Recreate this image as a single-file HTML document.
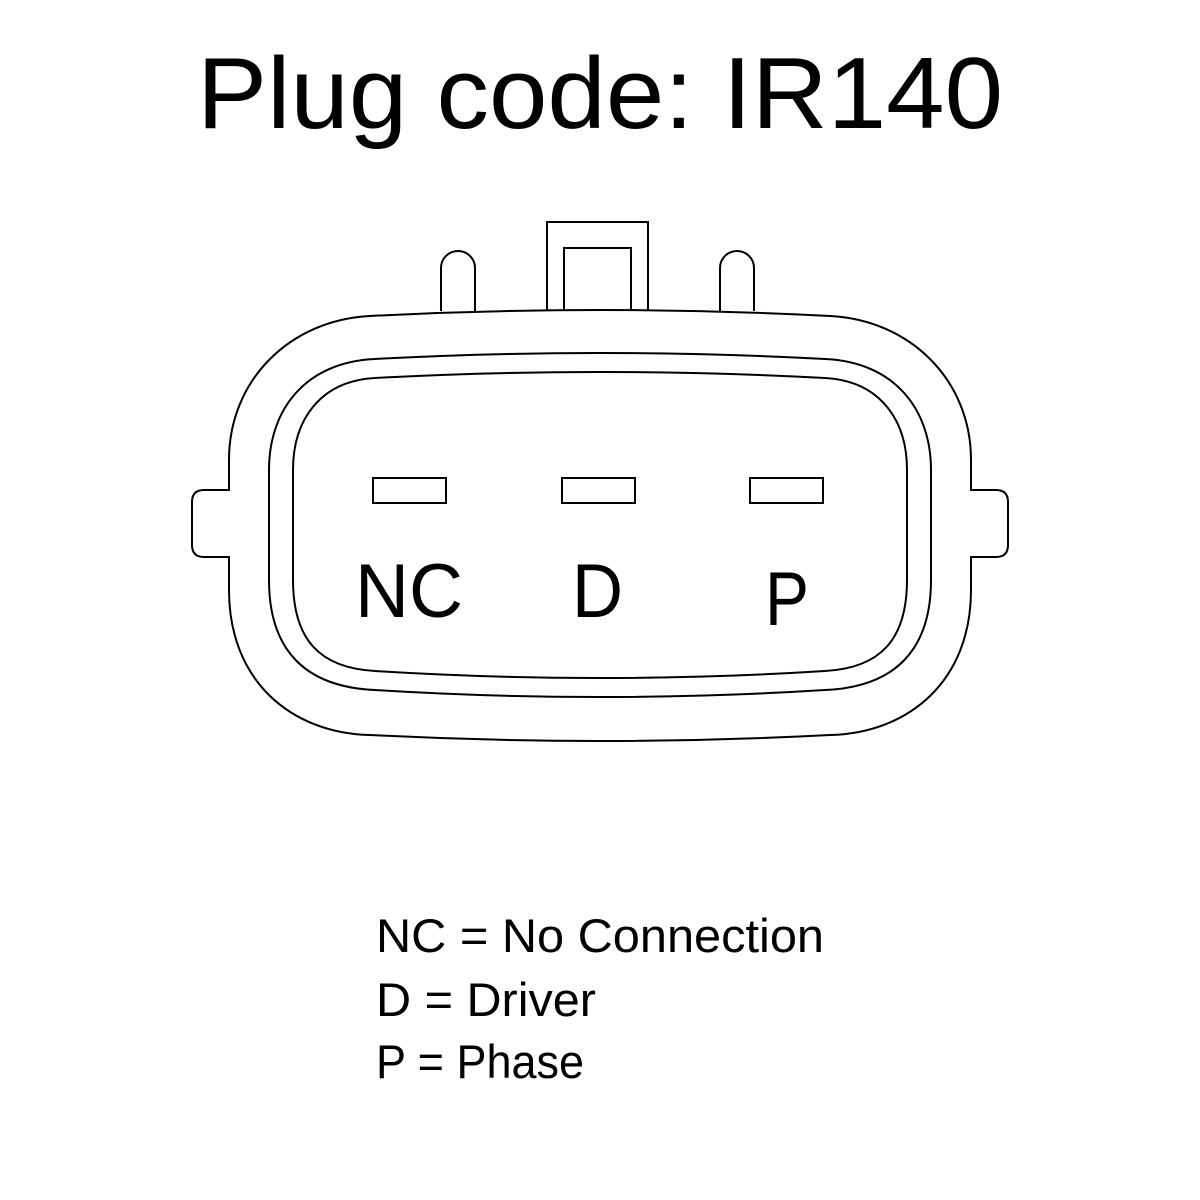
<!DOCTYPE html>
<html><head><style>html,body{margin:0;padding:0;background:#fff}svg{display:block}</style></head>
<body>
<svg width="1200" height="1200" viewBox="0 0 1200 1200" xmlns="http://www.w3.org/2000/svg">
<rect width="1200" height="1200" fill="#fff"/>
<text x="197" y="128" font-family="Liberation Sans, sans-serif" font-size="101" textLength="806" lengthAdjust="spacingAndGlyphs" fill="#000">Plug code: IR140</text>
<g fill="none" stroke="#000" stroke-width="2">
<!-- posts -->
<path d="M441,311 L441,268 A17,17 0 0 1 475,268 L475,311"/>
<path d="M720,311 L720,268 A17,17 0 0 1 754,268 L754,311"/>
<path d="M547,310 L547,222 L648,222 L648,310"/>
<path d="M564,310 L564,248 L631,248 L631,310"/>
<!-- outer -->
<path d="M370,316 Q600,304 830,316 C910,320 971,380 971,460 L971,490 L996,490 Q1008,490 1008,502 L1008,545 Q1008,557 996,557 L971,557 L971,590 C971,680 910,733 830,735 Q600,747 370,735 C290,733 229,680 229,590 L229,557 L204,557 Q192,557 192,545 L192,502 Q192,490 204,490 L229,490 L229,460 C229,380 290,320 370,316Z"/>
<path d="M375,359 Q600,347 825,359 C895,362 931,410 931,470 L931,580 C931,650 895,687 825,690 Q600,704 375,690 C305,687 269,650 269,580 L269,470 C269,410 305,362 375,359Z"/>
<path d="M375,378 Q600,366 825,378 C880,381 907,420 907,470 L907,580 C907,640 880,668 825,671 Q600,685 375,671 C320,668 293,640 293,580 L293,470 C293,420 320,381 375,378Z"/>
<rect x="373" y="478" width="73" height="25"/>
<rect x="562" y="478" width="73" height="25"/>
<rect x="750" y="478" width="73" height="25"/>
</g>
<g font-family="Liberation Sans, sans-serif" font-size="76" fill="#000">
<text x="355" y="617" textLength="108" lengthAdjust="spacingAndGlyphs">NC</text>
<text x="572" y="617" textLength="51" lengthAdjust="spacingAndGlyphs">D</text>
<text x="765" y="625" textLength="44" lengthAdjust="spacingAndGlyphs">P</text>
</g>
<g font-family="Liberation Sans, sans-serif" font-size="47" fill="#000">
<text x="376" y="952" textLength="448" lengthAdjust="spacingAndGlyphs">NC = No Connection</text>
<text x="376" y="1016" textLength="220" lengthAdjust="spacingAndGlyphs">D = Driver</text>
<text x="376" y="1078" textLength="208" lengthAdjust="spacingAndGlyphs">P = Phase</text>
</g>
</svg>
</body></html>
